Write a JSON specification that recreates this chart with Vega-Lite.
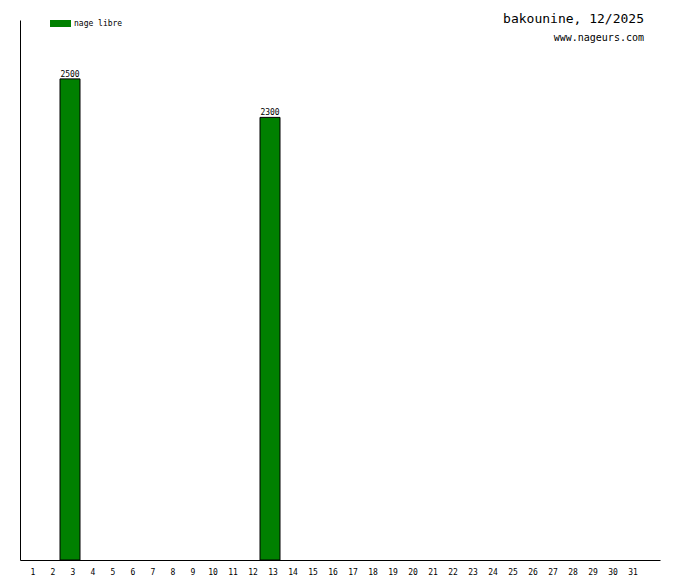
{
  "$schema": "https://vega.github.io/schema/vega-lite/v6.json",
  "width": 640,
  "height": 540,
  "autosize": "none",
  "padding": {"left": 20, "top": 20, "right": 20, "bottom": 20},
  "background": "white",
  "title": {
    "text": "bakounine, 12/2025",
    "subtitle": "www.nageurs.com\u2007",
    "anchor": "end",
    "orient": "top",
    "frame": "group",
    "offset": -30,
    "dx": -16,
    "font": "DejaVu Sans Mono",
    "fontSize": 13,
    "fontWeight": "normal",
    "color": "black",
    "subtitleFont": "DejaVu Sans Mono",
    "subtitleFontSize": 10,
    "subtitleColor": "black",
    "subtitlePadding": 7
  },
  "data": {
    "values": [
      {"day": 3, "distance": 2500, "type": "nage libre"},
      {"day": 13, "distance": 2300, "type": "nage libre"}
    ]
  },
  "config": {
    "view": {"stroke": null},
    "axis": {"labelFont": "DejaVu Sans Mono", "labelFontSize": 8, "labelColor": "black"}
  },
  "encoding": {
    "x": {
      "field": "day",
      "type": "ordinal",
      "scale": {"domain": [1,2,3,4,5,6,7,8,9,10,11,12,13,14,15,16,17,18,19,20,21,22,23,24,25,26,27,28,29,30,31,32], "paddingInner": 0, "paddingOuter": 0},
      "axis": {
        "title": null,
        "values": [1,2,3,4,5,6,7,8,9,10,11,12,13,14,15,16,17,18,19,20,21,22,23,24,25,26,27,28,29,30,31],
        "labelAngle": 0,
        "ticks": false,
        "labelPadding": 8,
        "labelOffset": 3,
        "domainColor": "black",
        "domainWidth": 1,
        "grid": false
      }
    },
    "y": {
      "field": "distance",
      "type": "quantitative",
      "scale": {"domain": [0, 2806], "nice": false},
      "axis": {"title": null, "labels": false, "ticks": false, "grid": false, "domainColor": "black", "domainWidth": 1}
    }
  },
  "layer": [
    {
      "mark": {"type": "bar", "stroke": "black", "strokeWidth": 1},
      "encoding": {
        "color": {
          "field": "type",
          "type": "nominal",
          "scale": {"range": ["#008000"]},
          "legend": {
            "title": null,
            "orient": "none",
            "legendX": 30,
            "legendY": -7,
            "padding": 0,
            "symbolType": "M-1,-0.333H1V0.333H-1Z",
            "symbolSize": 441,
            "symbolStrokeWidth": 0,
            "symbolOpacity": 1,
            "labelFont": "DejaVu Sans Mono",
            "labelFontSize": 8,
            "labelColor": "black",
            "labelOffset": 3
          }
        }
      }
    },
    {
      "mark": {"type": "text", "baseline": "bottom", "dy": 0, "font": "DejaVu Sans Mono", "fontSize": 8, "color": "black"},
      "encoding": {"text": {"field": "distance", "type": "quantitative"}}
    }
  ]
}
